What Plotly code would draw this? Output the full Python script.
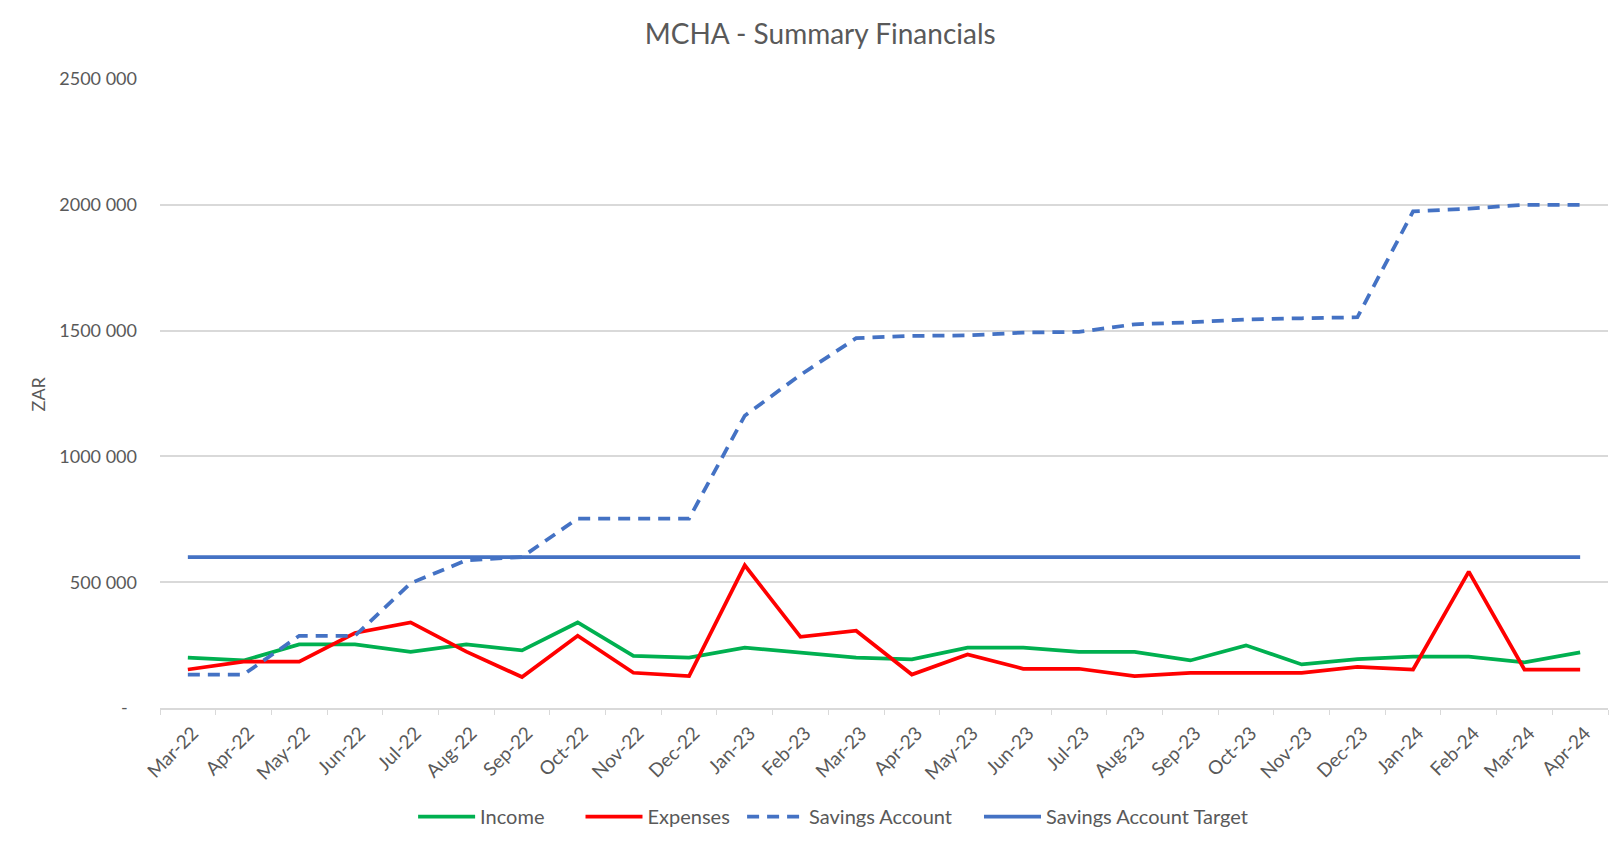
import plotly.graph_objects as go

# monthly figures (ZAR)
months = [
    "Mar-22", "Apr-22", "May-22", "Jun-22", "Jul-22", "Aug-22", "Sep-22",
    "Oct-22", "Nov-22", "Dec-22", "Jan-23", "Feb-23", "Mar-23", "Apr-23",
    "May-23", "Jun-23", "Jul-23", "Aug-23", "Sep-23", "Oct-23", "Nov-23",
    "Dec-23", "Jan-24", "Feb-24", "Mar-24", "Apr-24",
]
income = [
    200000, 189000, 253000, 253000, 223000, 253000, 229000, 340000, 207000,
    200000, 240000, 220000, 200000, 193000, 240000, 240000, 223000, 223000,
    189000, 249000, 173000, 194000, 204000, 204000, 181000, 221000,
]
expenses = [
    153000, 184000, 184000, 298000, 340000, 224000, 123000, 287000, 140000,
    127000, 567000, 283000, 307000, 133000, 213000, 156000, 156000, 127000,
    140000, 140000, 140000, 163000, 153000, 542000, 153000, 153000,
]
savings = [
    133000, 133000, 287000, 287000, 496000, 587000, 600000, 753000, 753000,
    753000, 1162000, 1324000, 1470000, 1479000, 1481000, 1492000, 1495000,
    1525000, 1533000, 1544000, 1549000, 1553000, 1974000, 1985000, 2000000,
    2000000,
]
savings_target = [600000] * len(months)

y_tickvals = [0, 500000, 1000000, 1500000, 2000000, 2500000]
y_ticktext = ["-\u00a0\u00a0", "500 000", "1000 000", "1500 000", "2000 000", "2500 000"]

FONT = "Lato, 'Open Sans', sans-serif"
TEXT_GREY = "#595959"
GRID_GREY = "#d9d9d9"
BLUE = "#4472C4"
LW = 3.75

fig = go.Figure()
fig.add_trace(go.Scatter(x=months, y=income, mode="lines", name="Income",
                         legend="legend",
                         line=dict(color="#00B050", width=LW)))
fig.add_trace(go.Scatter(x=months, y=expenses, mode="lines", name="Expenses",
                         legend="legend2",
                         line=dict(color="#FF0000", width=LW)))
fig.add_trace(go.Scatter(x=months, y=savings, mode="lines", name="Savings Account",
                         legend="legend3",
                         line=dict(color=BLUE, width=LW, dash="12px,8px")))
fig.add_trace(go.Scatter(x=months, y=savings_target, mode="lines", name="Savings Account Target",
                         legend="legend4",
                         line=dict(color=BLUE, width=LW)))


def legend_at(x):
    # one entry per legend box so the spacing follows the Excel layout
    return dict(orientation="h", x=x, xanchor="left", y=-0.1725, yanchor="middle",
                font=dict(size=20, color=TEXT_GREY), itemwidth=57,
                bgcolor="rgba(0,0,0,0)")


# page body has an 8px margin, so the figure is sized to sit inside it
fig.update_layout(
    width=1602,
    height=830,
    margin=dict(l=152, r=2, t=71, b=127),
    paper_bgcolor="white",
    plot_bgcolor="white",
    font=dict(family=FONT, color=TEXT_GREY, size=18),
    title=dict(text="MCHA - Summary Financials", x=0.507, xref="container",
               xanchor="center", y=0.969, yref="container", yanchor="middle",
               font=dict(size=28, color=TEXT_GREY)),
    showlegend=True,
    legend=legend_at(0.1748),
    legend2=legend_at(0.2904),
    legend3=legend_at(0.402),
    legend4=legend_at(0.5656),
    hovermode="x unified",
)

fig.update_xaxes(
    type="category",
    range=[-0.5, len(months) - 0.5],
    automargin=False,
    tickangle=-45,
    tickson="boundaries",
    ticks="outside",
    ticklen=5,
    tickcolor=GRID_GREY,
    showline=True,
    linecolor=GRID_GREY,
    linewidth=1.5,
    showgrid=False,
    ticklabelshift=5,
    ticklabelstandoff=5,
    tickfont=dict(size=19, color=TEXT_GREY),
)
fig.update_yaxes(
    range=[0, 2500000],
    tickvals=y_tickvals,
    ticktext=y_ticktext,
    showgrid=True,
    gridcolor=GRID_GREY,
    gridwidth=1.5,
    zeroline=False,
    showline=False,
    ticks="",
    automargin=False,
    ticklabelstandoff=22,
    tickfont=dict(size=18, color=TEXT_GREY),
)

fig.add_annotation(text="ZAR", xref="paper", yref="paper", x=-0.0843, y=0.5,
                   xanchor="center", yanchor="middle",
                   textangle=-90, showarrow=False,
                   font=dict(size=18, color=TEXT_GREY))

fig.write_html("out.html")
